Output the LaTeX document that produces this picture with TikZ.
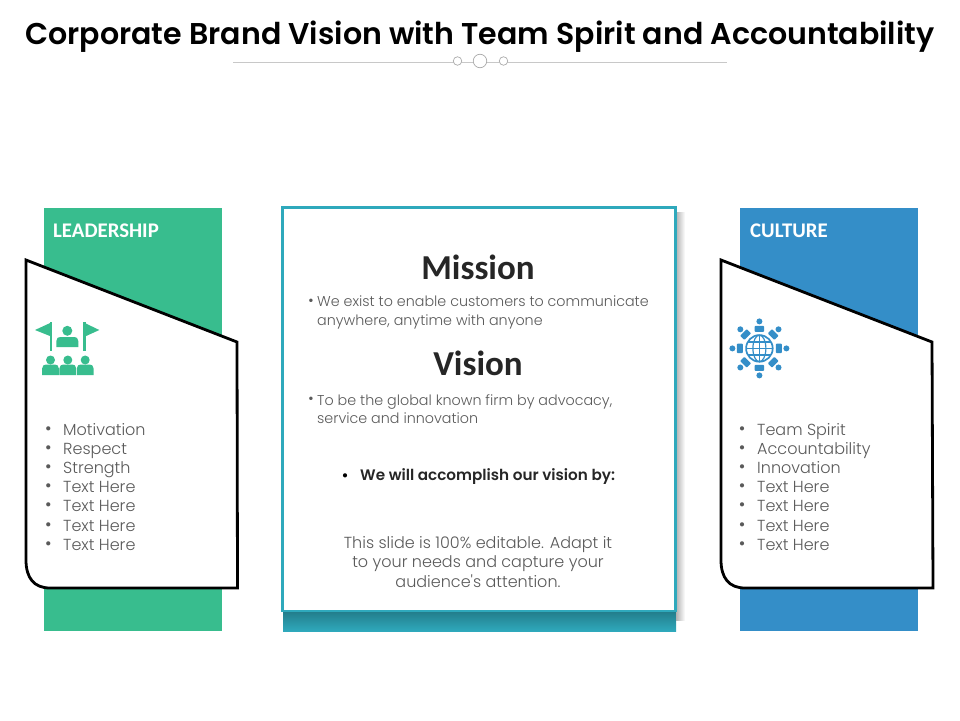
\documentclass[tikz,border=0pt]{standalone}
\usepackage{fontspec}
\setmainfont{Poppins}
\newfontfamily\ligf{Poppins Light}
\newfontfamily\semf{Poppins SemiBold}
\newfontfamily\carf{Carlito}
\definecolor{grn}{HTML}{38BD8E}
\definecolor{blu}{HTML}{348EC8}
\definecolor{tea}{HTML}{2FA9BC}
\definecolor{txt}{HTML}{5A5A5A}
\definecolor{rulec}{HTML}{C8C8C8}
\tikzset{
 x=1pt,y=-1pt,
 cardline/.style={draw=black,line width=2.8pt,fill=white,line join=miter},
 ring/.style={circle,draw=rulec!85!black,line width=.7pt,fill=white,inner sep=0},
 hd/.style={font=\carf\bfseries\fontsize{20.8}{20}\selectfont,text=white,anchor=west,inner sep=0},
 lst/.style={font=\ligf\fontsize{16}{19.2}\selectfont,text=txt,anchor=base west,inner sep=0,align=left},
 body/.style={font=\ligf\fontsize{14.3}{18.5}\selectfont,text=txt,anchor=north west,inner sep=0,align=left},
 big/.style={font=\carf\bfseries\fontsize{35}{35}\selectfont,text=black!85,inner sep=0},
 bul/.style={font=\fontsize{17}{17}\selectfont,text=txt,inner sep=0},
}
% x, y of the top of the shoulders, half width, y of the foot, head radius, gap, colour
\newcommand{\person}[7]{%
 \fill[#7] (#1,#2-#6-#5) circle[radius=#5];
 \fill[#7] (#1-#3,#4) -- (#1-#3,#2+4) .. controls (#1-#3,#2+1) and (#1-#3+2,#2) .. (#1-#3+4,#2) -- (#1+#3-4,#2) .. controls (#1+#3-2,#2) and (#1+#3,#2+1) .. (#1+#3,#2+4) -- (#1+#3,#4) -- cycle;
}
\begin{document}
\begin{tikzpicture}
\useasboundingbox (0,0) rectangle (960,720);
\node[font=\semf\fontsize{30.05}{32}\selectfont,text=black,inner sep=0] (title) at (480,37) {Corporate Brand Vision with Team Spirit and Accountability};
% ornament
\coordinate (rl) at (233,62.5); \coordinate (rr) at (727,62.5);
\draw[rulec,line width=.7pt] (rl) -- (rr);
\node[ring,minimum size=8.5pt] (c1) at (457.5,61) {};
\node[ring,minimum size=13.5pt] (c2) at (480,61) {};
\node[ring,minimum size=8.5pt] (c3) at (503.5,61) {};
% side bands
\fill[grn] (44,208) rectangle (222,631);
\fill[blu] (740,208) rectangle (918,631);
\node[hd] (lh) at (53,230.7) {LEADERSHIP};
\node[hd] (ch) at (750,230.7) {CULTURE};
% centre
\shade[top color=black!28!tea,bottom color=tea] (283,610) rectangle (676,631);
\shade[left color=black!30,right color=white] (676,212) rectangle (685,620);
\draw[tea,line width=2.6pt,fill=white] (282.5,207.5) rectangle (675.5,611);
% cards
\draw[cardline] (26,260) -- (237,342) -- (237.5,588) -- (50,588) .. controls (34,588) and (26,578) .. (26,560) -- cycle;
\draw[cardline] (721,260) -- (932,342) -- (933,588) -- (745,588) .. controls (729,588) and (721,578) .. (721,560) -- cycle;
% leadership icon
\fill[grn] (35,330) -- (51.7,322.3) -- (51.7,336.7) -- cycle;
\fill[grn] (49.7,322.3) rectangle (52,351);
\fill[grn] (83.3,322.3) rectangle (85.6,351);
\fill[grn] (83.3,322.3) -- (99.3,330) -- (83.3,337.3) -- cycle;
\person{67.3}{337}{11}{347}{5}{1.2}{grn}
\person{50.5}{364.5}{8.4}{375}{4.5}{0}{grn}
\person{67.8}{364.5}{8.4}{375}{4.5}{0}{grn}
\person{85.2}{364.5}{8.4}{375}{4.5}{0}{grn}
% culture icon
\begin{scope}[shift={(759.4,348.4)}]
 \draw[blu,line width=1.7pt] (0,0) circle[radius=13.3];
 \draw[blu,line width=1.2pt] (0,-13.3) -- (0,13.3) (-13.3,0) -- (13.3,0) (-11.7,-6.5) -- (11.7,-6.5) (-11.7,6.5) -- (11.7,6.5);
 \draw[blu,line width=1.2pt] (0,0) ellipse[x radius=6.5,y radius=13.3];
 \foreach \a in {0,45,...,315}{
  \begin{scope}[rotate=\a]
   \fill[blu] (27,0) circle[radius=3];
   \fill[blu,rounded corners=.8pt] (16.5,-4.7) rectangle (22.5,4.7);
  \end{scope}
 }
\end{scope}
% lists
\foreach \n/\y/\t in {a/429/Motivation,b/448/Respect,c/467/Strength,d/486/Text Here,e/505/Text Here,f/525/Text Here,g/544/Text Here}{
 \node[bul] (bl\n) at (48.5,\y+1.7) {•};
 \node[lst] (tl\n) at (63,\y+6) {\t};
}
\foreach \n/\y/\t in {a/429/Team Spirit,b/448/Accountability,c/467/Innovation,d/486/Text Here,e/505/Text Here,f/525/Text Here,g/544/Text Here}{
 \node[bul] (br\n) at (742,\y+1.7) {•};
 \node[lst] (tr\n) at (757,\y+6) {\t};
}
% centre text
\node[big] (mission) at (478,267) {Mission};
\node[big] (vision) at (478,363) {Vision};
\node[bul,font=\fontsize{14}{14}\selectfont] (bm) at (311,302.5) {•};
\node[body] (m1) at (317,296) {We exist to enable customers to communicate\\anywhere, anytime with anyone};
\node[bul,font=\fontsize{14}{14}\selectfont] (bv) at (311,400.5) {•};
\node[body] (v1) at (317,394) {To be the global known firm by advocacy,\\service and innovation};
\node[bul,text=black] (ba) at (345,477.5) {•};
\node[font=\semf\fontsize{15.2}{18}\selectfont,text=black!85,inner sep=0,anchor=west] (acc) at (360,477) {We will accomplish our vision by:};
\node[font=\ligf\fontsize{16}{19.2}\selectfont,text=txt,inner sep=0,align=center] (ed) at (478,562) {This slide is 100\% editable. Adapt it\\to your needs and capture your\\audience's attention.};
\end{tikzpicture}
\end{document}
